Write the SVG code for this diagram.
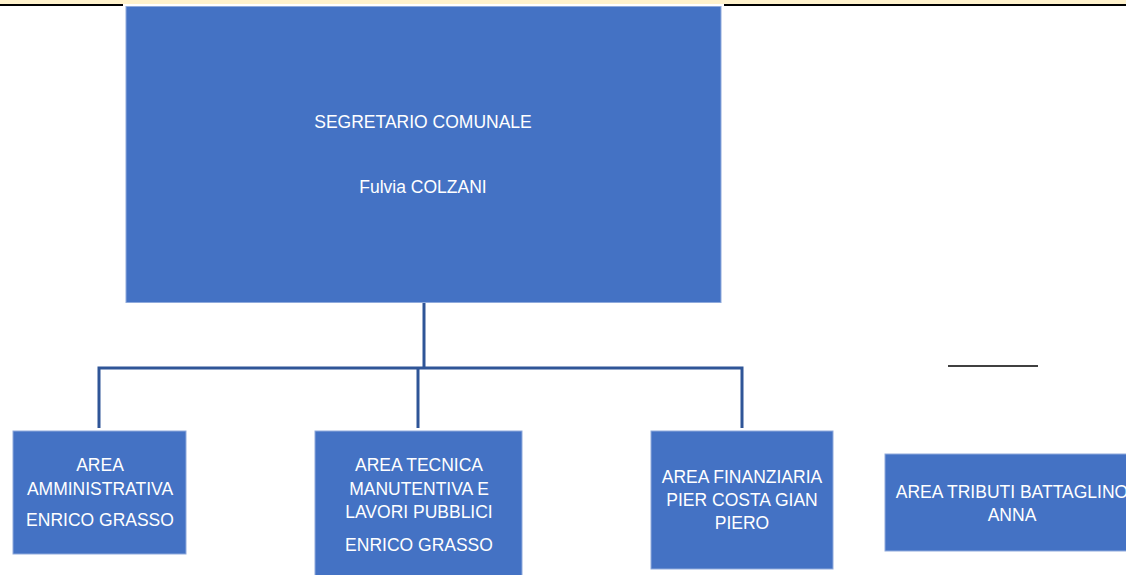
<svg xmlns="http://www.w3.org/2000/svg" width="1126" height="575" viewBox="0 0 1126 575">
<style>
.box{fill:#4472C4;stroke:#8FAADC;stroke-width:1}
.t{font-family:"Liberation Sans",Arial,sans-serif;font-size:17.5px;fill:#FFFFFF;text-anchor:middle}
.c{fill:none;stroke:#2F5597;stroke-width:3}
</style>
<rect x="0" y="0" width="1126" height="4" fill="#FFF2CC"/>
<line x1="0" y1="5" x2="123" y2="5" stroke="#000" stroke-width="2"/>
<line x1="724" y1="5" x2="1126" y2="5" stroke="#000" stroke-width="2"/>
<line x1="948" y1="366" x2="1038" y2="366" stroke="#000" stroke-width="1.5"/>
<g id="connectors">
<path class="c" d="M424 303V368"/>
<path class="c" d="M99 428V368H742V428"/>
<path class="c" d="M418 368V428"/>
</g>
<g id="segretario">
<rect class="box" x="126" y="6.5" width="595" height="296"/>
<text class="t" x="423" y="128">SEGRETARIO COMUNALE</text>
<text class="t" x="423" y="193">Fulvia COLZANI</text>
</g>
<g id="amministrativa">
<rect class="box" x="13" y="431" width="173" height="123"/>
<text class="t" x="100" y="471">AREA</text>
<text class="t" x="100" y="495">AMMINISTRATIVA</text>
<text class="t" x="100" y="526">ENRICO GRASSO</text>
</g>
<g id="tecnica">
<rect class="box" x="315" y="431" width="207" height="146"/>
<text class="t" x="419" y="471">AREA TECNICA</text>
<text class="t" x="419" y="495">MANUTENTIVA E</text>
<text class="t" x="419" y="518">LAVORI PUBBLICI</text>
<text class="t" x="419" y="551">ENRICO GRASSO</text>
</g>
<g id="finanziaria">
<rect class="box" x="651" y="431" width="182" height="138"/>
<text class="t" x="742" y="483">AREA FINANZIARIA</text>
<text class="t" x="742" y="506">PIER COSTA GIAN</text>
<text class="t" x="742" y="529">PIERO</text>
</g>
<g id="tributi">
<rect class="box" x="885" y="454" width="245" height="97"/>
<text class="t" x="1012" y="498">AREA TRIBUTI BATTAGLINO</text>
<text class="t" x="1012" y="521">ANNA</text>
</g>
</svg>
